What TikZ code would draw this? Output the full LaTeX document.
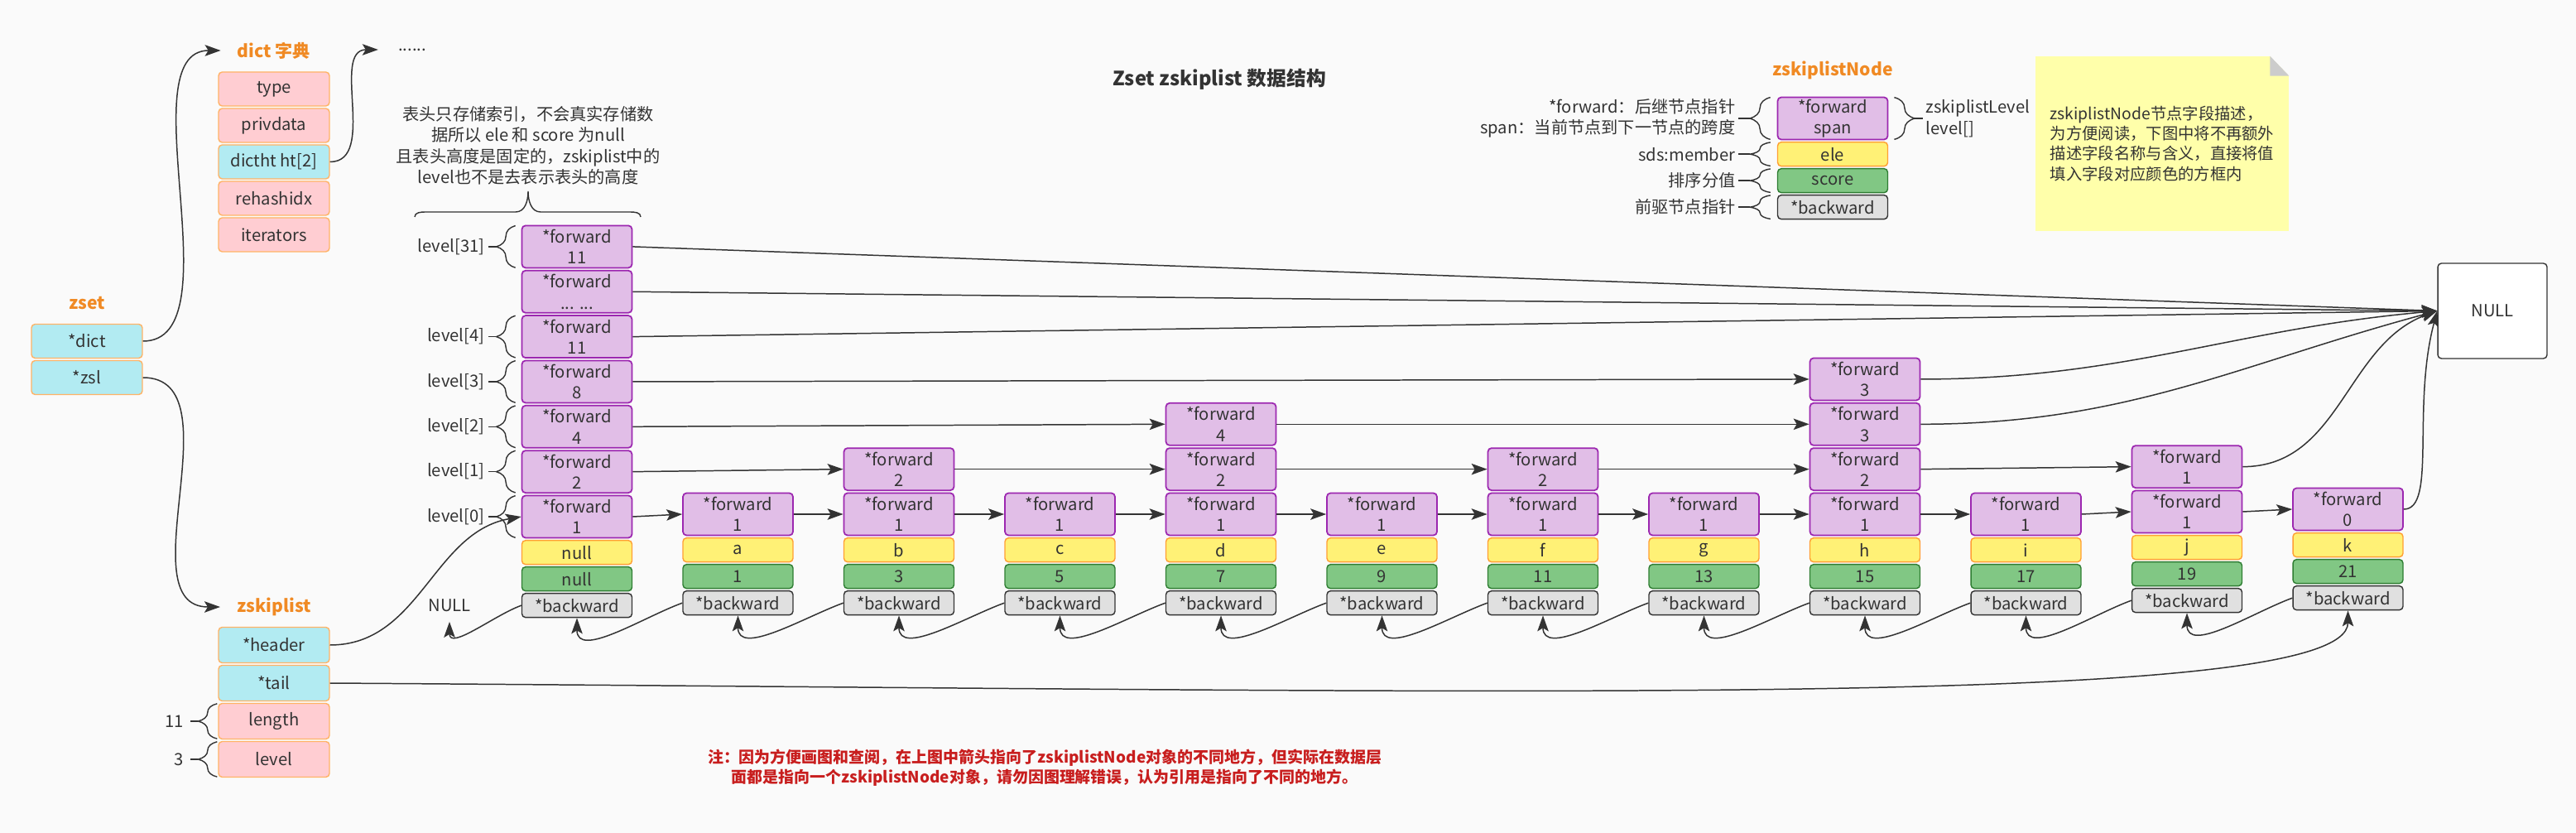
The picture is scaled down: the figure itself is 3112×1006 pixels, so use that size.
\documentclass[tikz,border=0pt]{standalone}
\usepackage{fontspec}
\setmainfont{Noto Sans CJK SC}
\usepackage{xcolor}
\usepackage{tikz}
\usetikzlibrary{positioning,arrows.meta,calc,decorations.pathreplacing}
\definecolor{canvas}{HTML}{FAFAFA}
\definecolor{ink}{HTML}{333333}
\definecolor{tangerine}{HTML}{F08A24}
\definecolor{rosefill}{HTML}{FFCDD2}
\definecolor{cyanfill}{HTML}{B2EBF2}
\definecolor{peach}{HTML}{FFB366}
\definecolor{lilac}{HTML}{E1BEE7}
\definecolor{violet}{HTML}{9C27B0}
\definecolor{lemon}{HTML}{FFF176}
\definecolor{amber}{HTML}{FF9F33}
\definecolor{leaf}{HTML}{81C784}
\definecolor{forest}{HTML}{2E7D32}
\definecolor{ash}{HTML}{E0E0E0}
\definecolor{memo}{HTML}{FFFFAA}
\definecolor{fold}{HTML}{CCCCCC}
\definecolor{warn}{HTML}{C81E1E}
\newcommand{\bxfont}{\fontsize{11.5}{14.5}\selectfont}
\newcommand{\lblfont}{\fontsize{12}{14}\selectfont}
\newcommand{\ttlfont}{\fontsize{13.5}{16}\selectfont}
\newcommand{\memofont}{\fontsize{11}{13.8}\selectfont}
\newcommand{\warnfont}{\fontsize{10.8}{13.6}\selectfont}
\tikzset{
  box/.style={rectangle, rounded corners=2.5pt, line width=0.8pt, inner sep=0pt,
              align=center, font=\bxfont, text=ink},
  ptr/.style={box, draw=peach, fill=cyanfill, minimum width=2.68cm, minimum height=0.82cm},
  val/.style={box, draw=peach, fill=rosefill, minimum width=2.68cm, minimum height=0.82cm},
  fwd/.style={box, draw=violet, fill=lilac, line width=1pt, minimum width=2.66cm, minimum height=1.02cm},
  ele/.style={box, draw=amber, fill=lemon, minimum width=2.66cm, minimum height=0.58cm},
  scr/.style={box, draw=forest, fill=leaf, minimum width=2.66cm, minimum height=0.58cm},
  bwd/.style={box, draw=ink, fill=ash, minimum width=2.66cm, minimum height=0.58cm},
  ttl/.style={font=\lblfont\bfseries, text=tangerine, inner xsep=0.4cm, inner ysep=0pt},
  txt/.style={font=\bxfont, text=ink, inner sep=0pt},
  arr/.style={-{Stealth[length=3.8mm,width=2.7mm,inset=0.8mm]}, line width=0.85pt, draw=ink},
  brc/.style={decorate, decoration={brace, amplitude=#1}, draw=ink, line width=0.8pt},
  brc/.default=0.46cm,
  tick/.style={draw=ink, line width=0.8pt},
}
\begin{document}
\begin{tikzpicture}[x=0.02cm, y=0.02cm, node distance=0.032cm]
  \useasboundingbox (0,0) rectangle (3112,-1006);
  \fill[canvas] (0,0) rectangle (3112,-1006);

  \node[font=\ttlfont\bfseries, text=ink] (title) at (1473,-96) {Zset zskiplist 数据结构};

  % zset
  \node[ttl] (zsetlbl) at (105,-366) {zset};
  \node[ptr] (zdict) at (105,-412) {*dict};
  \node[ptr, below=of zdict] (zzsl) {*zsl};

  % dict
  \node[ttl] (dictlbl) at (331,-61) {dict 字典};
  \node[val] (dtype) at (331,-107.5) {type};
  \node[val, below=of dtype] (dpriv) {privdata};
  \node[ptr, below=of dpriv] (dht) {dictht ht[2]};
  \node[val, below=of dht] (drehash) {rehashidx};
  \node[val, below=of drehash] (diter) {iterators};
  \node[txt, inner xsep=0.48cm] (more) at (498,-60) {......};

  % zskiplist
  \node[ttl] (zsllbl) at (331,-733) {zskiplist};
  \node[ptr, minimum height=0.86cm] (zhdr) at (331,-779) {*header};
  \node[ptr, minimum height=0.86cm, below=of zhdr] (ztail) {*tail};
  \node[val, minimum height=0.86cm, below=of ztail] (zlen) {length};
  \node[val, minimum height=0.86cm, below=of zlen] (zlvl) {level};
  \node[txt, left=0.82cm of zlen] (lenval) {11};
  \node[txt, left=0.82cm of zlvl] (lvlval) {3};
  \foreach \z/\v in {zlen/lenval, zlvl/lvlval}{
    \draw[brc] ($(\z.south west)+(-1,1)$) -- ($(\z.north west)+(-1,-1)$);
    \draw[tick] ($(\z.west)+(-24,0)$) -- ($(\v.east)+(8,0)$);
  }

  \draw[arr] (zdict.east) to[out=0,in=180,looseness=0.8] (dictlbl.west);
  \draw[arr] (dht.east) to[out=0,in=180] (more.west);
  \draw[arr] (zzsl.east) to[out=0,in=180] (zsllbl.west);

  % header column
  \node[fwd] (fw0-0) at (697,-624) {*forward\\1};
  \node[fwd, above=of fw0-0] (fw0-1) {*forward\\2};
  \node[fwd, above=of fw0-1] (fw0-2) {*forward\\4};
  \node[fwd, above=of fw0-2] (fw0-3) {*forward\\8};
  \node[fwd, above=of fw0-3] (fw0-4) {*forward\\11};
  \node[fwd, above=of fw0-4] (fw0-5) {*forward\\... ...};
  \node[fwd, above=of fw0-5] (fw0-6) {*forward\\11};
  \node[ele, below=of fw0-0] (ele0) {null};
  \node[scr, below=of ele0] (scr0) {null};
  \node[bwd, below=of scr0] (bk0) {*backward};
  \node[txt, inner sep=0.24cm] (nullL) at (543,-731) {NULL};

  \foreach \r/\lab in {0/0,1/1,2/2,3/3,4/4,6/31}{
    \node[txt, left=0.88cm of fw0-\r] (lv\r) {level[\lab]};
    \draw[brc] ($(fw0-\r.south west)+(-7,1)$) -- ($(fw0-\r.north west)+(-7,-1)$);
    \draw[tick] ($(fw0-\r.west)+(-30,0)$) -- ($(lv\r.east)+(4,0)$);
  }

  % header note
  \node[txt, align=center] (hdnote) at (638,-176)
    {表头只存储索引，不会真实存储数\\据所以 ele 和 score 为null\\且表头高度是固定的，zskiplist中的\\level也不是去表示表头的高度};
  \draw[tick] (501,-262) to[out=90,in=180] (514,-256) -- (623,-256) to[out=0,in=-90] (638,-231)
    to[out=-90,in=180] (653,-256) -- (761,-256) to[out=0,in=90] (774,-262);

  % skiplist nodes
  \foreach \i/\elem/\score/\nxt/\dy in {1/a/1/1/3, 2/b/3/1/3, 3/c/5/1/3, 4/d/7/1/3, 5/e/9/1/3,
      6/f/11/1/3, 7/g/13/1/3, 8/h/15/1/3, 9/i/17/1/3, 10/j/19/1/6, 11/k/21/0/9}{
    \node[fwd] (fw\i-0) at ({697+194.5*\i},{-624+\dy}) {*forward\\\nxt};
    \node[ele, below=of fw\i-0] (ele\i) {\elem};
    \node[scr, below=of ele\i] (scr\i) {\score};
    \node[bwd, below=of scr\i] (bk\i) {*backward};
  }
  \node[fwd, above=of fw2-0] (fw2-1) {*forward\\2};
  \node[fwd, above=of fw4-0] (fw4-1) {*forward\\2};
  \node[fwd, above=of fw4-1] (fw4-2) {*forward\\4};
  \node[fwd, above=of fw6-0] (fw6-1) {*forward\\2};
  \node[fwd, above=of fw8-0] (fw8-1) {*forward\\2};
  \node[fwd, above=of fw8-1] (fw8-2) {*forward\\3};
  \node[fwd, above=of fw8-2] (fw8-3) {*forward\\3};
  \node[fwd, above=of fw10-0] (fw10-1) {*forward\\1};

  \node[box, draw=ink, fill=white, minimum width=2.64cm, minimum height=2.3cm] (nul) at (3011,-375.5) {NULL};

  % forward links
  \foreach \i [evaluate=\i as \j using int(\i+1)] in {0,...,10}
    \draw[arr] (fw\i-0.east) -- (fw\j-0.west);
  \foreach \a/\b in {0/2,2/4,4/6,6/8,8/10}
    \draw[arr] (fw\a-1.east) -- (fw\b-1.west);
  \draw[arr] (fw0-2.east) -- (fw4-2.west);
  \draw[arr] (fw4-2.east) -- (fw8-2.west);
  \draw[arr] (fw0-3.east) -- (fw8-3.west);
  \foreach \r in {4,5,6}
    \draw[arr] (fw0-\r.east) -- (nul.west);
  \draw[arr] (fw8-3.east) to[out=0,in=185] (nul.west);
  \draw[arr] (fw8-2.east) to[out=0,in=195] (nul.west);
  \draw[arr] (fw10-1.east) to[out=0,in=200] (nul.west);
  \draw[arr] (fw11-0.east) .. controls ($(fw11-0.east)+(40,0)$) and ($(nul.west)+(-31,-116)$) .. (nul.west);

  % backward links
  \foreach \i [evaluate=\i as \j using int(\i-1)] in {1,...,11}
    \draw[arr] (bk\i.west) to[out=200,in=-90] (bk\j.south);
  \draw[arr] (bk0.west) to[out=200,in=-90] (nullL.south);

  \draw[arr] (zhdr.east) to[out=0,in=190] (fw0-0.west);
  \draw[arr] (ztail.east) .. controls ($(ztail.east)+(1400,-9)$) and ($(bk11.south)+(0,-123)$) .. (bk11.south);

  % legend
  \node[ttl] (nodelbl) at (2214,-85) {zskiplistNode};
  \node[fwd] (lgfw) at (2214,-143) {*forward\\span};
  \node[ele, below=of lgfw] (lgele) {ele};
  \node[scr, below=of lgele] (lgscr) {score};
  \node[bwd, below=of lgscr] (lgbk) {*backward};
  \node[txt, align=right, left=1cm of lgfw] (lgfwtxt) {*forward：后继节点指针\\span：当前节点到下一节点的跨度};
  \node[txt, left=1cm of lgele] (lgeletxt) {sds:member};
  \node[txt, left=1cm of lgscr] (lgscrtxt) {排序分值};
  \node[txt, left=1cm of lgbk] (lgbktxt) {前驱节点指针};
  \node[txt, align=left, right=0.9cm of lgfw] (lglvtxt) {zskiplistLevel\\level[]};
  \foreach \k in {fw,ele,scr,bk}{
    \draw[brc=0.5cm] ($(lg\k.south west)+(-8,1)$) -- ($(lg\k.north west)+(-8,-1)$);
    \draw[tick] ($(lg\k.west)+(-33,0)$) -- ($(lg\k txt.east)+(3,0)$);
  }
  \draw[brc=0.5cm] ($(lgfw.north east)+(7,-1)$) -- ($(lgfw.south east)+(7,1)$);
  \draw[tick] ($(lgfw.east)+(32,0)$) -- ($(lglvtxt.west)+(-3,0)$);

  % note
  \node[fill=memo, minimum width=6.12cm, minimum height=4.22cm, align=left, font=\memofont, text=ink] (memo) at (2612,-173.5)
    {zskiplistNode节点字段描述，\\为方便阅读，下图中将不再额外\\描述字段名称与含义，直接将值\\填入字段对应颜色的方框内};
  \fill[canvas] ($(memo.north east)+(-23,0)$) -- (memo.north east) -- ($(memo.north east)+(0,-24)$) -- cycle;
  \fill[fold] ($(memo.north east)+(-23,0)$) -- ($(memo.north east)+(-23,-24)$) -- ($(memo.north east)+(0,-24)$) -- cycle;

  \node[font=\warnfont\bfseries, text=warn, align=center] (warning) at (1262,-927)
    {注：因为方便画图和查阅，在上图中箭头指向了zskiplistNode对象的不同地方，但实际在数据层\\面都是指向一个zskiplistNode对象，请勿因图理解错误，认为引用是指向了不同的地方。};
\end{tikzpicture}
\end{document}
